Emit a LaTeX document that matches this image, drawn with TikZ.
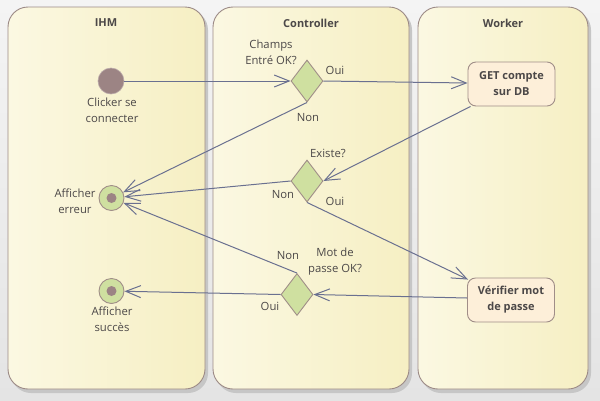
\documentclass[tikz,border=0pt]{standalone}
\usepackage{fontspec}
\setmainfont{Open Sans}
\usetikzlibrary{shapes.geometric,arrows.meta}
\definecolor{bgtop}{HTML}{F4F4F4}
\definecolor{bgbot}{HTML}{E4E4E4}
\definecolor{laneL}{HTML}{FBF8E2}
\definecolor{laneR}{HTML}{F6EFC3}
\definecolor{lanebd}{HTML}{9C8A86}
\definecolor{shadowc}{HTML}{C6C6C6}
\definecolor{nodebd}{HTML}{A08E88}
\definecolor{mauve}{HTML}{9C8484}
\definecolor{green}{HTML}{CFE0A0}
\definecolor{peach}{HTML}{FDEFD9}
\definecolor{edge}{HTML}{6A7090}
\definecolor{txt}{HTML}{4C4848}
\tikzset{
  lbl/.style={text=txt, font=\fontsize{11.3}{16}\selectfont, align=center, inner sep=0pt},
  title/.style={text=txt, font=\fontsize{11}{14}\selectfont\bfseries, inner sep=0pt},
  startnode/.style={circle, minimum size=26pt, inner sep=0pt, fill=mauve, draw=mauve!70!white, line width=0.6pt},
  endnode/.style={circle, minimum size=25pt, inner sep=0pt, fill=green, draw=nodebd, line width=0.9pt},
  decision/.style={diamond, minimum width=32pt, minimum height=42pt, inner sep=0pt, fill=green, draw=nodebd, line width=0.9pt},
  action/.style={rectangle, rounded corners=8pt, minimum width=87pt, minimum height=44pt, inner sep=0pt, fill=peach, draw=nodebd, line width=0.9pt, align=center, text=txt, font=\fontsize{11}{16}\selectfont\bfseries},
  arr/.style={draw=edge, line width=1pt, -{Straight Barb[length=15pt,width=12pt,line width=1pt]}},
}
\begin{document}
\begin{tikzpicture}[x=1pt,y=-1pt]
\useasboundingbox (0,0) rectangle (600,400);
\shade[top color=bgtop, bottom color=bgbot] (0,0) rectangle (600,400);
% lanes
\foreach \a/\b in {8/205, 213/409, 418/588}{
  \fill[shadowc, rounded corners=20pt] (\a+3,10) rectangle (\b+3,393);
  \shade[left color=laneL, right color=laneR, rounded corners=20pt] (\a,7) rectangle (\b,389);
  \draw[lanebd, line width=0.9pt, rounded corners=20pt] (\a,7) rectangle (\b,389);
}
\node[title] (t1) at (106,23) {IHM};
\node[title] (t2) at (311,23) {Controller};
\node[title] (t3) at (503,23) {Worker};
% nodes
\node[startnode] (start) at (111,81) {};
\node[decision] (d1) at (307,81) {};
\node[decision] (d2) at (307,181) {};
\node[decision] (d3) at (297,294.5) {};
\node[action] (get) at (511.5,84) {GET compte\\sur DB};
\node[action] (ver) at (511,300) {Vérifier mot\\de passe};
\node[endnode] (err) at (111.5,198) {};
\fill[mauve] (err.center) circle (5pt);
\node[endnode] (suc) at (111.5,291) {};
\fill[mauve] (suc.center) circle (5pt);
% labels
\node[lbl] (lstart) at (112,110) {Clicker se\\connecter};
\node[lbl] (lerr) at (75,201) {Afficher\\erreur};
\node[lbl] (lsuc) at (112,319) {Afficher\\succès};
\node[lbl] (ld1) at (271,52) {Champs\\Entré OK?};
\node[lbl] (ld1o) at (335,70) {Oui};
\node[lbl] (ld1n) at (308,118) {Non};
\node[lbl] (ld2) at (328,153) {Existe?};
\node[lbl] (ld2n) at (283,195) {Non};
\node[lbl] (ld2o) at (335,201) {Oui};
\node[lbl] (ld3) at (335,261.5) {Mot de\\passe OK?};
\node[lbl] (ld3n) at (288,256) {Non};
\node[lbl] (ld3o) at (270,306) {Oui};
% edges
\draw[arr] (start) -- (d1.west);
\draw[arr] (d1.east) -- ([yshift=1pt]get.west);
\draw[arr] (d1.south) -- (err);
\draw[arr] ([xshift=3pt]get.south west) -- (d2.east);
\draw[arr] (d2.west) -- (err);
\draw[arr] (d2.south) -- ([xshift=1pt,yshift=-2pt]ver.north west);
\draw[arr] ([yshift=2pt]ver.west) -- (d3.east);
\draw[arr] (d3.north) -- (err);
\draw[arr] (d3.west) -- (suc);
\end{tikzpicture}
\end{document}
